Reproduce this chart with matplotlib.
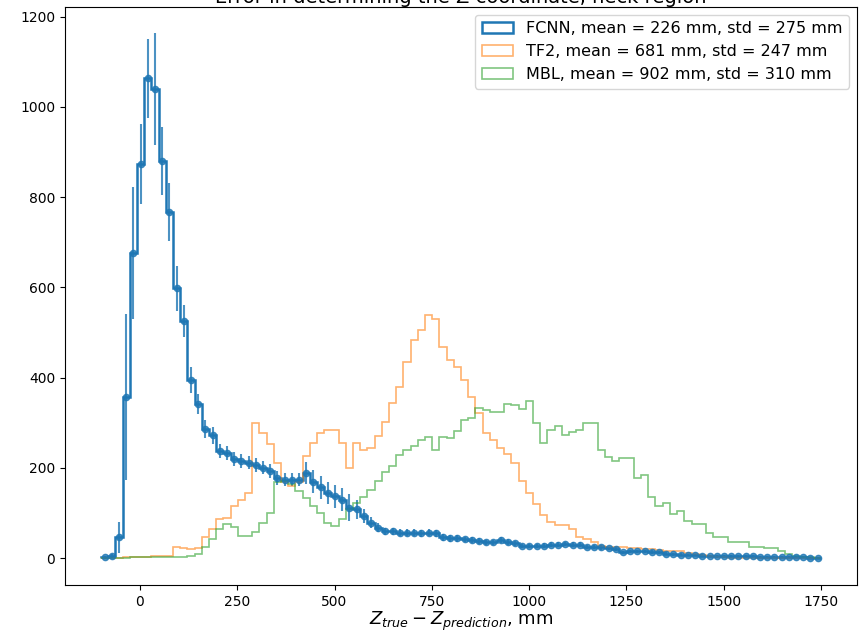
import numpy as np
import matplotlib
matplotlib.use('Agg')
from matplotlib import pyplot as plt

#%% Data (100 bins from -100 to 1750 mm)
bin_lo, bin_hi, n_bins = -100, 1750, 100

fcnn_counts = [2, 5, 46, 358, 677, 873, 1063, 1039, 880, 767,
               598, 526, 395, 341, 286, 272, 237, 233, 220, 216,
               212, 206, 201, 193, 178, 174, 174, 174, 189, 170,
               157, 145, 137, 130, 112, 108, 93, 79, 68, 60,
               60, 57, 57, 57, 55, 57, 55, 46, 44, 44,
               42, 40, 38, 35, 35, 40, 36, 33, 27, 27,
               27, 28, 30, 30, 32, 30, 30, 25, 25, 24,
               22, 20, 13, 15, 15, 15, 14, 13, 10, 9,
               8, 7, 7, 6, 5, 4, 4, 4, 4, 4,
               4, 3, 3, 3, 3, 2, 2, 2, 1, 1]
fcnn_err = [3, 5, 35, 184, 146, 89, 87, 124, 75, 65,
            50, 35, 28, 22, 20, 18, 16, 16, 16, 16,
            15, 15, 15, 15, 15, 15, 15, 15, 25, 25,
            25, 25, 25, 25, 30, 20, 15, 12, 10, 8,
            8, 8, 8, 8, 8, 8, 8, 7, 7, 7,
            6, 6, 6, 6, 6, 6, 6, 5, 5, 5,
            5, 5, 5, 5, 5, 5, 5, 5, 5, 5,
            4, 4, 4, 4, 4, 4, 4, 4, 3, 3,
            3, 3, 3, 3, 3, 3, 3, 3, 3, 3,
            3, 2, 2, 2, 2, 2, 2, 2, 1, 1]
tf2_counts = [0, 0, 0, 2, 3, 3, 3, 4, 4, 5,
              24, 22, 20, 22, 46, 64, 86, 90, 115, 130,
              145, 300, 278, 253, 210, 170, 161, 168, 226, 256,
              278, 285, 285, 255, 200, 255, 240, 245, 270, 302,
              345, 380, 435, 483, 505, 538, 531, 468, 439, 424,
              395, 357, 322, 278, 262, 245, 232, 210, 172, 145,
              120, 95, 80, 74, 74, 64, 48, 42, 36, 28,
              26, 26, 24, 22, 22, 20, 20, 18, 17, 16,
              15, 12, 10, 8, 5, 3, 2, 1, 0, 0,
              0, 0, 0, 0, 0, 0, 0, 0, 0, 0]
mbl_counts = [0, 0, 0, 1, 2, 2, 2, 2, 3, 3,
              3, 3, 5, 9, 24, 42, 65, 75, 70, 49,
              50, 58, 79, 100, 168, 172, 165, 150, 133, 115,
              100, 79, 71, 86, 110, 122, 135, 152, 172, 190,
              205, 229, 240, 249, 262, 269, 240, 269, 267, 282,
              307, 311, 333, 329, 324, 324, 342, 340, 330, 348,
              300, 256, 285, 292, 274, 280, 285, 300, 300, 240,
              225, 215, 223, 223, 178, 185, 135, 115, 123, 97,
              104, 82, 75, 75, 57, 46, 46, 35, 35, 37,
              26, 26, 22, 22, 15, 9, 5, 3, 2, 1]

labels = ['FCNN, mean = 226 mm, std = 275 mm',
          'TF2, mean = 681 mm, std = 247 mm',
          'MBL, mean = 902 mm, std = 310 mm']

#%% Plot
edges = np.linspace(bin_lo, bin_hi, n_bins + 1)
centers = 0.5 * (edges[1:] + edges[:-1])

fig = plt.figure(figsize=(8.61, 6.32), dpi=100)
ax = fig.add_axes([0.0755, 0.0744, 0.92, 0.9146])

ax.hist(centers, bins=edges, weights=fcnn_counts, histtype='step',
        lw=1.8, color='C0', label=labels[0])
ax.errorbar(centers, fcnn_counts, yerr=fcnn_err, fmt='o', ms=4.5,
            color='C0', elinewidth=1.5, alpha=0.8)
ax.hist(centers, bins=edges, weights=tf2_counts, histtype='step',
        lw=1.2, color='C1', alpha=0.6, label=labels[1])
ax.hist(centers, bins=edges, weights=mbl_counts, histtype='step',
        lw=1.2, color='C2', alpha=0.6, label=labels[2])

ax.set_title('Error in determining the Z coordinate, neck region', fontsize=14, pad=1)
ax.set_xlabel(r'$Z_{true} - Z_{prediction}$, mm', fontsize=13, labelpad=1)
ax.tick_params(labelsize=10)
ax.legend(loc='upper right', fontsize=11.5)

plt.savefig('out.png', dpi=100)
